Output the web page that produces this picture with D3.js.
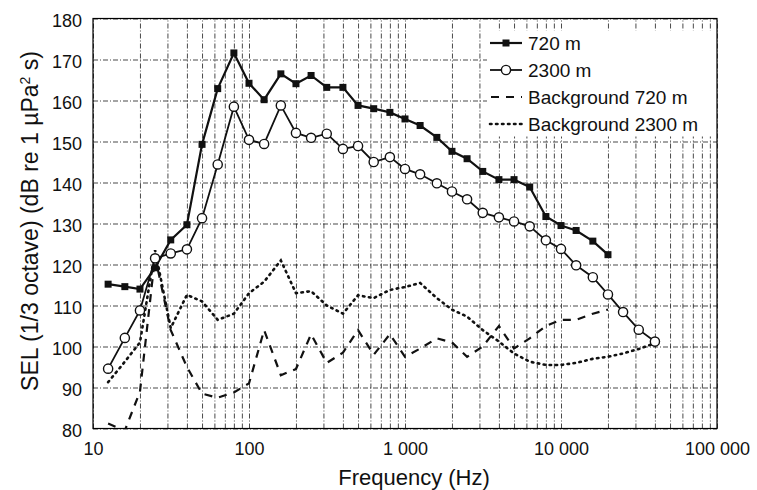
<!DOCTYPE html>
<html>
<head>
<meta charset="utf-8">
<script src="https://cdn.jsdelivr.net/npm/d3@7"></script>
<style>
  body { margin: 0; background: #fff; }
  text { font-family: "Liberation Sans", Arial, sans-serif; fill: #111; }
</style>
</head>
<body>
<div id="chart"></div>
<script>
// 1/3-octave band centre frequencies (Hz)
var freqs = [12.5, 16, 20, 25, 31.5, 40, 50, 63, 80, 100, 125, 160, 200, 250, 315, 400, 500, 630, 800,
  1000, 1250, 1600, 2000, 2500, 3150, 4000, 5000, 6300, 8000, 10000, 12500, 16000, 20000, 25000, 31500, 40000];

// SEL values (dB re 1 µPa² s)
var sel720 = [115.2, 114.6, 114, 119.2, 126, 129.7, 149.3, 162.9, 171.6, 164.2, 160.2, 166.5, 164.1, 166.1,
  163.2, 163.2, 158.8, 158.0, 157.1, 155.5, 153.9, 151.0, 147.6, 145.8, 142.7, 140.7, 140.7, 138.9, 131.7,
  129.5, 128.3, 125.7, 122.4];
var sel2300 = [94.6, 102.1, 108.8, 121.5, 122.7, 123.7, 131.3, 144.4, 158.5, 150.4, 149.4, 158.8, 152.1, 150.9,
  151.9, 148.2, 148.9, 145.0, 146.2, 143.3, 142.0, 139.8, 137.8, 135.9, 132.6, 131.5, 130.5, 129.3, 125.9,
  123.8, 119.8, 116.9, 112.7, 108.4, 104.1, 101.2];
var bg720 = [81.2, 79.5, 89, 122, 104, 95, 88.5, 87.5, 88.8, 91, 104, 93, 94.5, 103, 96, 98.5, 104, 98, 103,
  97.5, 99.5, 102, 101, 97.5, 100, 105, 99.5, 102, 105, 106.5, 106.5, 108, 109];
var bg2300 = [91.3, 96.3, 101, 123.5, 104.5, 112.6, 111, 106.5, 108, 113, 115.8, 121, 113, 113.5, 110, 108,
  112.5, 111.8, 113.8, 114.5, 115.5, 111.8, 109, 107.3, 104, 101.2, 98.3, 96.3, 95.5, 95.5, 96, 97, 97.5,
  98.3, 99.4, 100.8];

var xTicks = [10, 100, 1000, 10000, 100000];
var yTicks = [80, 90, 100, 110, 120, 130, 140, 150, 160, 170, 180];
var legendNames = ["720 m", "2300 m", "Background 720 m", "Background 2300 m"];

var width = 757, height = 490;
var margin = { top: 18.5, right: 40, bottom: 61.5, left: 93 };
var w = width - margin.left - margin.right;
var h = height - margin.top - margin.bottom;

var svg = d3.select("#chart").append("svg")
  .attr("width", width)
  .attr("height", height);

var g = svg.append("g").attr("transform", "translate(" + margin.left + "," + margin.top + ")");

var x = d3.scaleLog().domain([10, 100000]).range([0, w]);
var y = d3.scaleLinear().domain([80, 180]).range([h, 0]);

var loc = d3.formatLocale({ decimal: ".", thousands: " ", grouping: [3], currency: ["", ""] });
var fmt = loc.format(",");

g.append("clipPath").attr("id", "clip")
  .append("rect").attr("width", w).attr("height", h);

// grid
var gridStyle = function (sel) {
  sel.select(".domain").remove();
  sel.selectAll("line")
    .attr("stroke", "#111")
    .attr("stroke-width", 0.9)
    .attr("stroke-dasharray", "5,2,1,2")
    .attr("opacity", 0.85);
};
g.append("g")
  .attr("transform", "translate(0," + h + ")")
  .call(d3.axisBottom(x).tickValues(x.ticks()).tickSize(-h).tickFormat(""))
  .call(gridStyle);
g.append("g")
  .call(d3.axisLeft(y).tickValues(yTicks).tickSize(-w).tickFormat(""))
  .call(gridStyle);

// legend background hides grid behind it
g.append("rect")
  .attr("x", 394).attr("y", 12)
  .attr("width", w - 394).attr("height", 106)
  .attr("fill", "#fff");

// frame
g.append("rect")
  .attr("width", w).attr("height", h)
  .attr("fill", "none")
  .attr("stroke", "#000")
  .attr("stroke-width", 1.2);

// axes labels
var xAxis = g.append("g")
  .attr("transform", "translate(0," + h + ")")
  .call(d3.axisBottom(x).tickValues(xTicks).tickSize(0).tickPadding(14).tickFormat(fmt));
xAxis.select(".domain").remove();
xAxis.selectAll("text").attr("font-size", 18).style("fill", "#111");

var yAxis = g.append("g")
  .call(d3.axisLeft(y).tickValues(yTicks).tickSize(0).tickPadding(11));
yAxis.select(".domain").remove();
yAxis.selectAll("text").attr("font-size", 18).attr("dy", "0.45em").style("fill", "#111");

svg.append("text")
  .attr("x", 414).attr("y", 485)
  .attr("text-anchor", "middle")
  .attr("font-size", 22)
  .text("Frequency (Hz)");

var yl = svg.append("text")
  .attr("transform", "translate(38,221) rotate(-90)")
  .attr("text-anchor", "middle")
  .attr("font-size", 23);
yl.append("tspan").text("SEL (1/3 octave) (dB re 1 µPa");
yl.append("tspan").attr("font-size", 14).attr("baseline-shift", "super").text("2");
yl.append("tspan").text(" s)");

// series
function pts(vals) {
  return vals.map(function (v, i) { return { f: freqs[i], v: v }; });
}
var line = d3.line()
  .x(function (d) { return x(d.f); })
  .y(function (d) { return y(d.v); });

var plot = g.append("g").attr("clip-path", "url(#clip)");

plot.append("path").datum(pts(bg720))
  .attr("d", line).attr("fill", "none")
  .attr("stroke", "#111").attr("stroke-width", 2.2)
  .attr("stroke-dasharray", "8,7");

plot.append("path").datum(pts(bg2300))
  .attr("d", line).attr("fill", "none")
  .attr("stroke", "#111").attr("stroke-width", 2.6)
  .attr("stroke-dasharray", "1.5,4.5")
  .attr("stroke-linecap", "round");

plot.append("path").datum(pts(sel2300))
  .attr("d", line).attr("fill", "none")
  .attr("stroke", "#111").attr("stroke-width", 1.8);

plot.append("path").datum(pts(sel720))
  .attr("d", line).attr("fill", "none")
  .attr("stroke", "#111").attr("stroke-width", 2.2);

plot.selectAll(".sq").data(pts(sel720)).enter().append("rect")
  .attr("x", function (d) { return x(d.f) - 3.5; })
  .attr("y", function (d) { return y(d.v) - 3.5; })
  .attr("width", 7).attr("height", 7)
  .attr("fill", "#111");

plot.selectAll(".ci").data(pts(sel2300)).enter().append("circle")
  .attr("cx", function (d) { return x(d.f); })
  .attr("cy", function (d) { return y(d.v); })
  .attr("r", 4.6)
  .attr("fill", "#fff")
  .attr("stroke", "#111")
  .attr("stroke-width", 1.4);

// legend
var lx0 = 490 - margin.left, lx1 = 522 - margin.left;
var rows = [43, 70, 97, 124];
var leg = g.append("g");
legendNames.forEach(function (name, i) {
  var ry = rows[i] - margin.top;
  var ln = leg.append("line")
    .attr("x1", lx0).attr("x2", lx1).attr("y1", ry).attr("y2", ry)
    .attr("stroke", "#111");
  if (i === 0) ln.attr("stroke-width", 2.2);
  if (i === 1) ln.attr("stroke-width", 1.8);
  if (i === 2) ln.attr("stroke-width", 2.2).attr("stroke-dasharray", "8,7").attr("x1", lx0 + 1);
  if (i === 3) ln.attr("stroke-width", 2.6).attr("stroke-dasharray", "1.5,4.5").attr("stroke-linecap", "round");
  if (i === 0) {
    leg.append("rect").attr("x", (lx0 + lx1) / 2 - 3.5).attr("y", ry - 3.5)
      .attr("width", 7).attr("height", 7).attr("fill", "#111");
  }
  if (i === 1) {
    leg.append("circle").attr("cx", (lx0 + lx1) / 2).attr("cy", ry).attr("r", 4.6)
      .attr("fill", "#fff").attr("stroke", "#111").attr("stroke-width", 1.4);
  }
  leg.append("text")
    .attr("x", 528 - margin.left).attr("y", ry)
    .attr("dy", "0.36em")
    .attr("font-size", 19)
    .text(name);
});
</script>
</body>
</html>
